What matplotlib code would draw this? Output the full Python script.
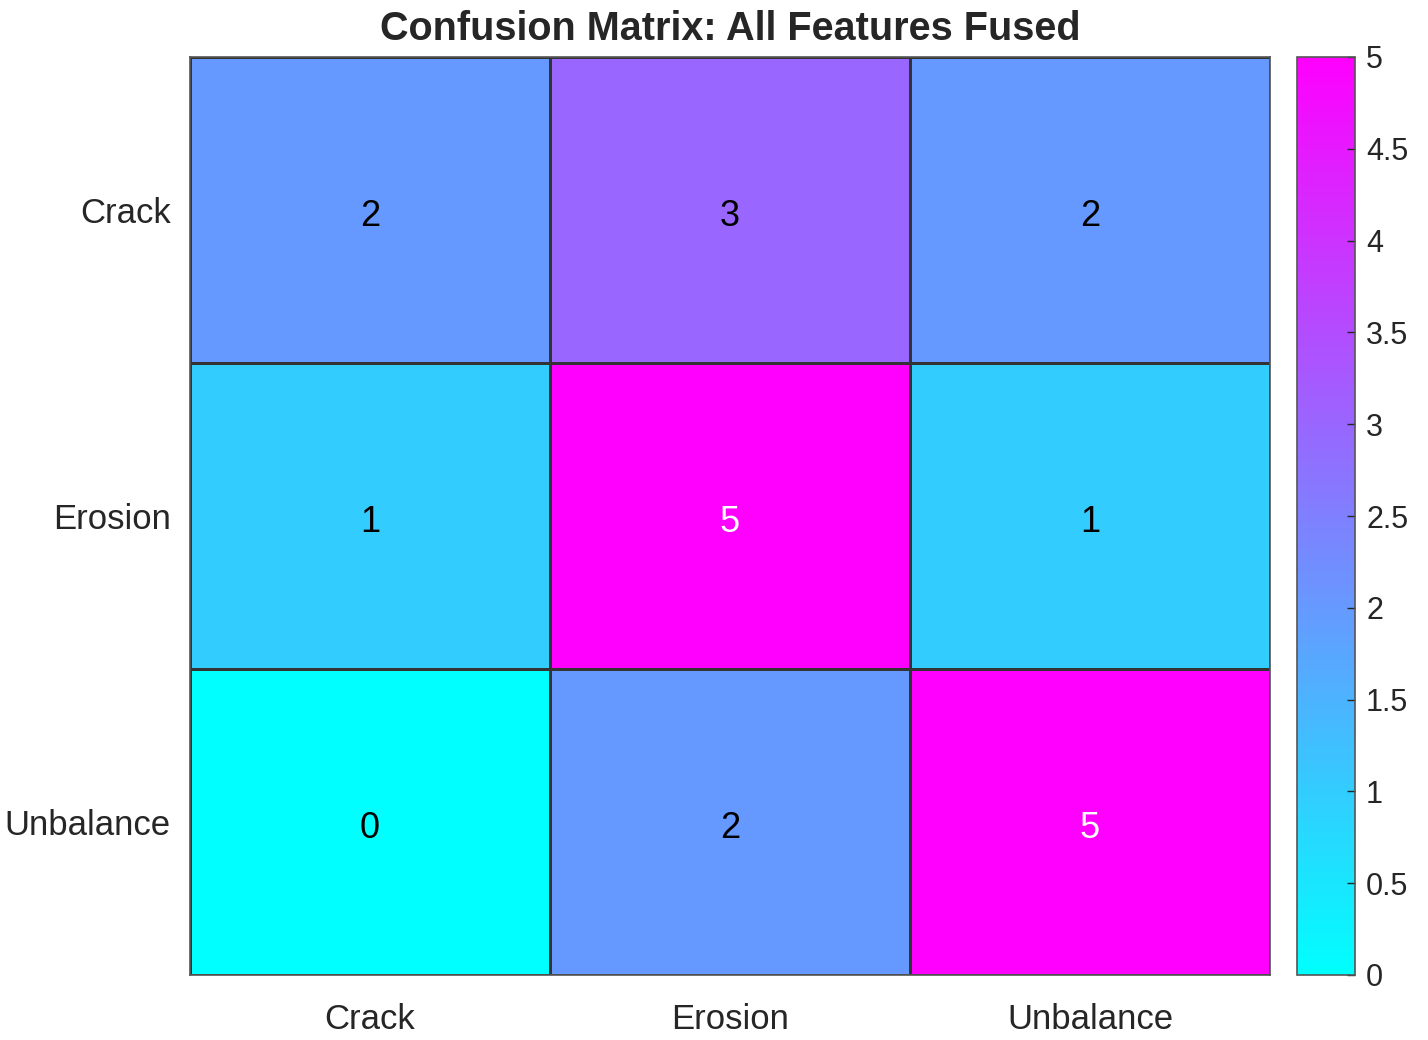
import numpy as np
import matplotlib
matplotlib.use("Agg")
import matplotlib.pyplot as plt
from matplotlib.colors import Normalize

plt.rcParams['font.family'] = ['Liberation Sans', 'DejaVu Sans']

row_labels = ["Crack", "Erosion", "Unbalance"]
col_labels = ["Crack", "Erosion", "Unbalance"]
values = np.array([
    [2, 3, 2],
    [1, 5, 1],
    [0, 2, 5],
])
cbar_ticks = [0, 0.5, 1, 1.5, 2, 2.5, 3, 3.5, 4, 4.5, 5]
cbar_ticklabels = ["0", "0.5", "1", "1.5", "2", "2.5", "3", "3.5", "4", "4.5", "5"]
title = "Confusion Matrix: All Features Fused"

fig = plt.figure(figsize=(14.28, 10.4), dpi=100)
ax = fig.add_axes([190/1428, 1-975/1040, (1270-190)/1428, (975-57)/1040])
cax = fig.add_axes([1297/1428, 1-975/1040, 58/1428, (975-57)/1040])

norm = Normalize(vmin=0, vmax=5)
cmap = plt.get_cmap('cool')
im = ax.pcolormesh(np.arange(4), np.arange(4), values, cmap=cmap, norm=norm,
                   edgecolor='#333333', linewidth=0.8)
ax.set_xlim(0, 3)
ax.set_ylim(3, 0)
ax.set_xticks(np.arange(3) + 0.5)
ax.set_xticklabels(col_labels, fontsize=25, color='#262626')
ax.set_yticks(np.arange(3) + 0.5)
ax.set_yticklabels(row_labels, fontsize=25, color='#262626')
ax.tick_params(axis='x', length=0, pad=20)
ax.tick_params(axis='y', length=0, pad=14)
for s in ax.spines.values():
    s.set_color('#555555')
    s.set_linewidth(1.2)

for i in range(3):
    for j in range(3):
        v = values[i, j]
        ax.text(j + 0.5, i + 0.52, str(v), ha='center', va='center',
                fontsize=26, color='white' if v >= 4 else 'black')

ax.set_title(title, fontsize=28.5, fontweight='bold', color='#262626', pad=12)

cb = fig.colorbar(im, cax=cax)
cb.set_ticks(cbar_ticks)
cb.set_ticklabels(cbar_ticklabels)
cax.tick_params(direction='in', length=6, width=1, labelsize=22,
                colors='#262626', pad=8)
cb.outline.set_edgecolor('#555555')
cb.outline.set_linewidth(1.2)

fig.savefig("out.png", dpi=100, facecolor='white')
